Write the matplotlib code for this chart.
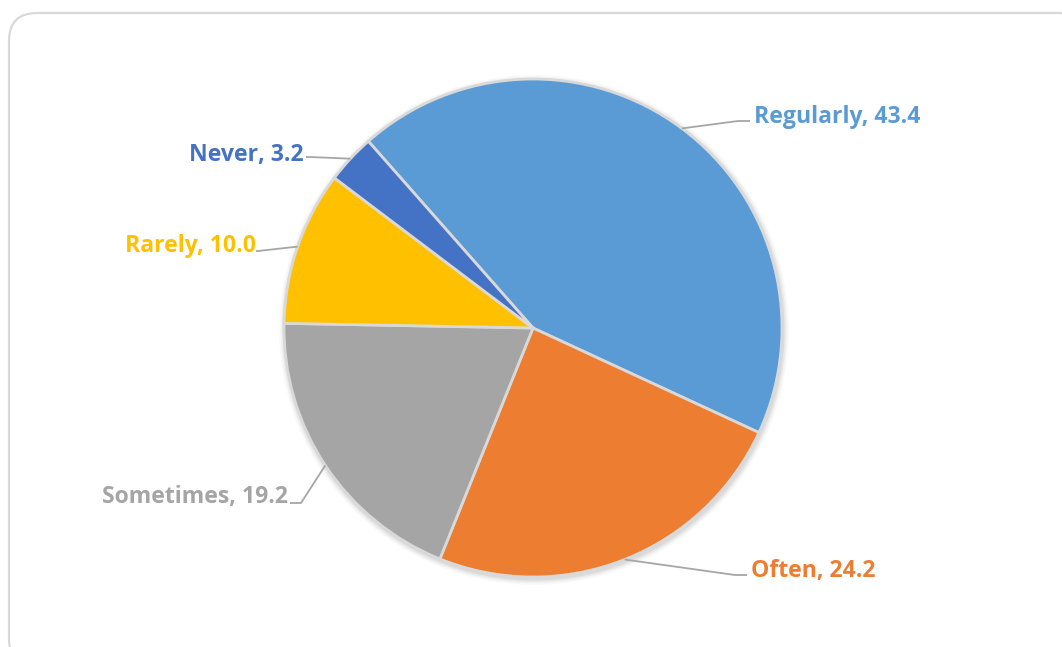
import matplotlib
matplotlib.use("Agg")
import matplotlib.pyplot as plt
import numpy as np
from matplotlib.patches import FancyBboxPatch, Circle

categories = ["Regularly", "Often", "Sometimes", "Rarely", "Never"]
values = [43.4, 24.2, 19.2, 10.0, 3.2]
colors = ["#5B9BD5", "#ED7D31", "#A5A5A5", "#FFC000", "#4472C4"]

W, H = 1062, 647
fig = plt.figure(figsize=(W / 100, H / 100), dpi=100)
fig.patch.set_facecolor("white")
ax = fig.add_axes([0, 0, 1, 1])
ax.set_xlim(0, W)
ax.set_ylim(0, H)
ax.set_aspect("equal")
ax.axis("off")

# rounded outer border
box = FancyBboxPatch((9, -20), 1080, H - 13 + 20, boxstyle="round,pad=0,rounding_size=28",
                     fc="none", ec="#D9D9D9", lw=1.6, zorder=0)
ax.add_patch(box)

cx, cy, R = 533, H - 328, 249

# soft shadow
for i, a in enumerate([0.05, 0.04, 0.03, 0.02]):
    ax.add_patch(Circle((cx + 1, cy - 2), R + 1.5 + i * 1.5, fc="#000000", alpha=a, lw=0, zorder=1))

wedges, _ = ax.pie(values, colors=colors, startangle=131.4, counterclock=False,
                   center=(cx, cy), radius=R, frame=True,
                   wedgeprops=dict(edgecolor="#D9D9D9", linewidth=2.0, zorder=2))
ax.set_xlim(0, W)
ax.set_ylim(0, H)
ax.axis("off")

# label layout: (knee x, knee y, end x, end y, text x, text y, ha) in pixel coords (y down)
layout = {
    "Regularly": (738, 121, 750, 121, 754, 117, "left"),
    "Often": (735, 575, 747, 575, 751, 571, "left"),
    "Sometimes": (301, 503, 290, 503, 288, 497, "right"),
    "Rarely": (258, 251, 256, 251, 256, 246, "right"),
    "Never": (310, 157, 306, 157, 304, 155, "right"),
}

for w, cat, val, col in zip(wedges, categories, values, colors):
    mid = np.deg2rad((w.theta1 + w.theta2) / 2)
    ex, ey = cx + R * np.cos(mid), cy + R * np.sin(mid)
    kx, ky, endx, endy, tx, ty, ha = layout[cat]
    ax.plot([ex, kx, endx], [ey, H - ky, H - endy], color="#A6A6A6", lw=1.3,
            solid_capstyle="butt", zorder=3)
    ax.text(tx, H - ty, f"{cat}, {val:.1f}", color=col, fontsize=16.6, fontweight="bold",
            family=["Open Sans", "DejaVu Sans"], ha=ha, va="center", zorder=4)

fig.savefig("out.png", dpi=100, facecolor="white")
